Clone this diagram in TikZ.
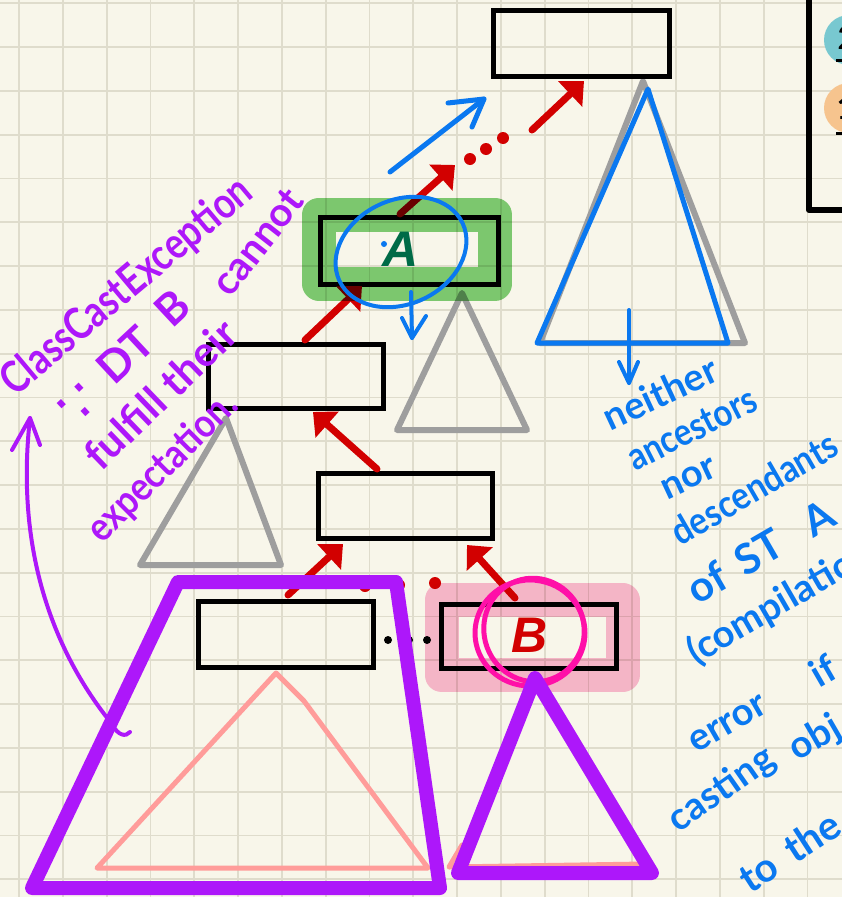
\documentclass[tikz,border=0pt]{standalone}
\usepackage{fontspec}
\usepackage{graphicx}
\setmainfont{Lato}
\newfontfamily\signfont{DejaVu Sans}
\newfontfamily\letterfont{Liberation Sans}
\usetikzlibrary{arrows.meta}

\definecolor{paper}{HTML}{F8F6EA}
\definecolor{gridc}{HTML}{DFDCCC}
\definecolor{inkred}{HTML}{D20000}
\definecolor{inkblue}{HTML}{0A78F0}
\definecolor{inkpurple}{HTML}{AD17FA}
\definecolor{inkgray}{HTML}{9E9E9E}
\definecolor{salmon}{HTML}{FF9C9A}
\definecolor{hlgreen}{HTML}{80CF78}
\definecolor{hlpink}{HTML}{FBBCD8}
\definecolor{magink}{HTML}{FF10A8}
\definecolor{darkgreen}{HTML}{006B47}
\definecolor{tealdot}{HTML}{78C8D0}
\definecolor{peachdot}{HTML}{F6C48E}

\tikzset{
  gridline/.style={draw=gridc, line width=1.8pt},
  box/.style={draw=black, line width=5pt, inner sep=0pt, minimum width=175pt, minimum height=65pt},
  redarrow/.style={draw=inkred, line width=7pt, line cap=round, -{Triangle[length=19pt,width=34pt]}},
  reddot/.style={fill=inkred},
  blackdot/.style={fill=black},
  graytri/.style={draw=inkgray, line width=6pt, line join=round, line cap=round},
  bluepen/.style={draw=inkblue, line width=5pt, line join=round, line cap=round},
  salmonpen/.style={draw=salmon, line width=5pt, line join=round, line cap=round},
  purplepen/.style={draw=inkpurple, line width=4pt, line join=round, line cap=round},
  purplethick/.style={draw=inkpurple, line width=14pt, line join=round, line cap=round},
  magpen/.style={draw=magink, line width=5pt},
  highlight/.style={line width=34pt, line join=round},
  letterlabel/.style={inner sep=0pt, font=\letterfont\bfseries\itshape\fontsize{50}{50}\selectfont},
  handp/.style={text=inkpurple, inner sep=0pt, font=\bfseries\fontsize{44}{44}\selectfont},
  handb/.style={text=inkblue, inner sep=0pt, font=\bfseries\fontsize{38}{38}\selectfont},
}

\begin{document}
\begin{tikzpicture}[x=1pt,y=-1pt]
\useasboundingbox (0,0) rectangle (842,897);
\fill[paper] (0,0) rectangle (842,897);

% squared paper
\foreach \i in {0,...,19} {
  \draw[gridline] ({19+43.8*\i},0) -- ({19+43.8*\i},897);
}
\foreach \j in {0,...,20} {
  \draw[gridline] (0,{3.3+43.8*\j}) -- (842,{3.3+43.8*\j});
}

% subtrees
\draw[graytri] (643,81) -- (745,343) -- (540,343) -- cycle;
\draw[bluepen] (648,89) -- (728,343) -- (537,343) -- cycle;
\draw[graytri] (462,293) -- (527,430) -- (397,430) -- cycle;
\draw[graytri] (226,418) -- (281,565) -- (140,565) -- cycle;
\draw[salmonpen] (276,673) -- (304,701) -- (428,868) -- (97,868) -- cycle;
\draw[salmonpen] (462,845) -- (449,867) -- (645,864);

% class boxes
\node[box, minimum width=176pt, minimum height=66pt] (topbox) at (581.5,43.5) {};
\node[box, minimum width=178pt, minimum height=67pt] (boxA) at (409.5,251) {};
\node[box, minimum height=64pt] (box2) at (296,376.5) {};
\node[box, minimum width=174pt] (box3) at (405.5,506) {};
\node[box, minimum height=66pt] (boxL) at (286,634.5) {};
\node[box, minimum height=64pt] (boxB) at (529,636.5) {};

% inheritance arrows
\draw[redarrow] ([xshift=9pt,yshift=2pt]box2.north) -- ([xshift=-47.5pt,yshift=1pt]boxA.south);
\coordinate (chainTip) at (455,165);
\coordinate (chainResume) at (532,130);
\draw[redarrow] ([xshift=-9.5pt,yshift=1pt]boxA.north) -- (chainTip);
\draw[redarrow] (chainResume) -- ([xshift=2.5pt,yshift=-2pt]topbox.south);
\draw[redarrow] ([xshift=-28.5pt,yshift=2pt]box3.north) -- ([xshift=17pt,yshift=-1pt]box2.south);
\draw[redarrow] ([xshift=2pt,yshift=4pt]boxL.north) -- ([xshift=-62.5pt,yshift=-3pt]box3.south);
\draw[redarrow] ([xshift=-14pt,yshift=4pt]boxB.north) -- ([xshift=61.5pt,yshift=-4pt]box3.south);

% ellipsis dots
\fill[reddot] (470,159) circle[radius=6pt];
\fill[reddot] (486,149) circle[radius=6pt];
\fill[reddot] (503,138) circle[radius=6pt];
\fill[reddot] (365,586) circle[radius=6pt];
\fill[reddot] (399,585) circle[radius=6pt];
\fill[reddot] (435,583) circle[radius=6pt];
\fill[blackdot] (388,640) circle[radius=4pt];
\fill[blackdot] (409,640) circle[radius=4pt];
\fill[blackdot] (427,640) circle[radius=4pt];

% highlighter strokes
\begin{scope}[blend mode=multiply]
  \draw[highlight, draw=hlgreen] (319,214.5) rectangle (495,283.5);
  \draw[highlight, draw=hlpink] (441.5,600) rectangle (622.5,675);
\end{scope}

% class names
\node[letterlabel, text=darkgreen] (labelA) at (401,249) {A};
\node[letterlabel, text=inkred] (labelB) at (530,635) {B};

% circling of B
\draw[magpen] (530,633) ellipse[x radius=55pt, y radius=53pt];
\draw[magpen, rotate around={20:(534,630)}] (534,630) ellipse[x radius=50pt, y radius=52pt];

% trapezoid and triangle in purple
\draw[purplethick] (178,582) -- (396,582) -- (440,888) -- (32,888) -- cycle;
\draw[purplethick] (535,678) -- (652,873) -- (458,873) -- cycle;

% blue marks around A
\draw[bluepen, line width=4pt, rotate around={25:(401,252)}] (401,252) ellipse[x radius=68pt, y radius=52pt];
\fill[inkblue] (384,244) circle[radius=3pt];
\coordinate (downA) at (412,338);
\draw[bluepen, line width=4pt] (411,292) -- (downA);
\draw[bluepen, line width=4pt] (402,318) -- (downA) -- (426,316);
\coordinate (upTip) at (484,99);
\draw[bluepen] (390,172) -- (upTip);
\draw[bluepen] (448,103) -- (upTip) -- (472,127);
\coordinate (downTree) at (629,383);
\draw[bluepen, line width=4pt] (629,310) -- (downTree);
\draw[bluepen, line width=4pt] (619,362) -- (downTree) -- (638,362);

% blue notes
\node[handb, rotate=25] (n1) at (660,393) {neither};
\node[handb, rotate=27] (n2) at (692,429) {\scalebox{0.86}[1]{ancestors}};
\node[handb, rotate=25] (n3) at (689,479) {nor};
\node[handb, rotate=30] (n4) at (754,488) {\scalebox{0.88}[1]{descendants}};
\node[handb, rotate=30, anchor=west, font=\bfseries\fontsize{42}{42}\selectfont] (n5) at (690,592) {of\hspace{0.4em}ST\hspace{0.7em}A};
\node[handb, rotate=30, anchor=west] (n6) at (690,655) {(compilation};
\node[handb, rotate=30] (n7) at (728,724) {error};
\node[handb, rotate=30] (n8) at (823,670) {if};
\node[handb, rotate=35] (n9) at (722,790) {casting};
\node[handb, rotate=30, anchor=west] (n10) at (792,752) {obj};
\node[handb, rotate=33, anchor=west, font=\bfseries\fontsize{40}{40}\selectfont] (n11) at (742,882) {to\hspace{0.4em}the};

% purple notes
\node[handp, rotate=40, anchor=base west] (p1) at (15,398) {\scalebox{0.82}[1]{ClassCastException}};
\node[handp, rotate=43, font=\signfont\fontsize{58}{58}\selectfont] (p2) at (80,406) {∵};
\node[handp, rotate=43] (p3) at (125,355) {DT};
\node[handp, rotate=43] (p4) at (172,308) {B};
\node[handp, rotate=52, font=\bfseries\fontsize{40}{40}\selectfont] (p5) at (258,242) {cannot};
\node[handp, rotate=44, font=\bfseries\fontsize{42}{42}\selectfont] (p6) at (160,394) {fulfill their};
\node[handp, rotate=45, font=\bfseries\fontsize{40}{40}\selectfont] (p7) at (163,468) {\scalebox{0.88}[1]{expectation.}};

% purple pointer
\coordinate (curveTip) at (30,418);
\draw[purplepen] (curveTip) .. controls (14,560) and (60,660) .. (112,724) .. controls (118,736) and (126,737) .. (130,732);
\draw[purplepen] (12,450) -- (curveTip) -- (40,445);

% legend corner
\draw[line width=6pt, line join=round] (809,-5) -- (809,210) -- (850,210);
\fill[tealdot] (849,40) circle[radius=25pt];
\fill[peachdot] (849,108) circle[radius=25pt];
\node[inner sep=0pt, font=\bfseries\fontsize{32}{32}\selectfont] (leg2) at (847,38) {2};
\node[inner sep=0pt, font=\bfseries\fontsize{32}{32}\selectfont] (leg1) at (846,108) {1};
\draw[line width=3pt] (836,60) -- (860,60);
\draw[line width=3pt] (836,133) -- (860,133);
\end{tikzpicture}
\end{document}
